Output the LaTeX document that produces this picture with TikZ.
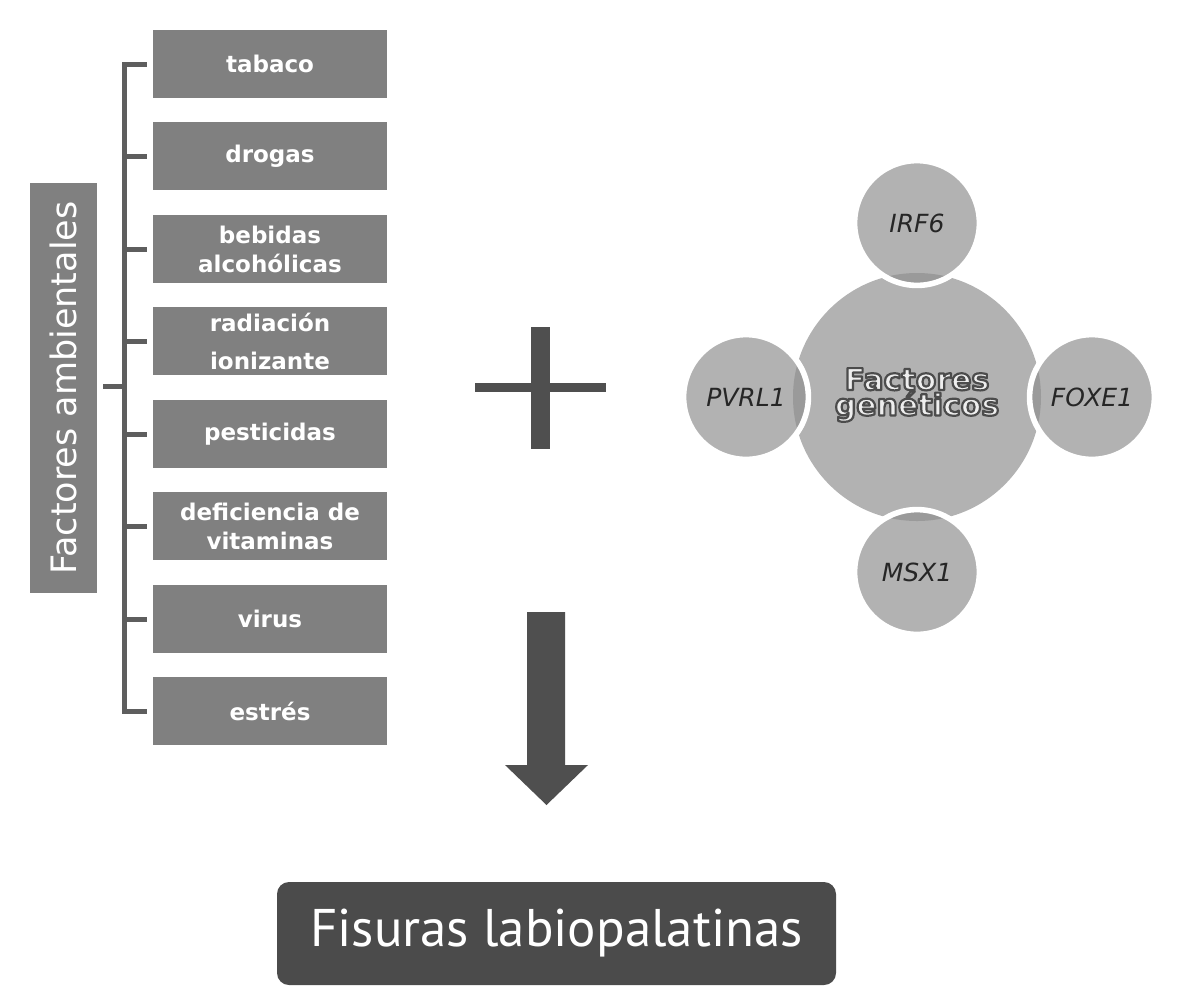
\documentclass[tikz,border=0pt]{standalone}
\usepackage{fontspec}
\setmainfont{DejaVu Sans}
\newfontfamily\fisfont{PT Sans}
\definecolor{boxgray}{HTML}{808080}
\definecolor{brkgray}{HTML}{5E5E5E}
\definecolor{darkgray2}{HTML}{4F4F4F}
\definecolor{circgray}{HTML}{B2B2B2}
\definecolor{lensgray}{HTML}{9A9A9A}
\definecolor{genetext}{HTML}{262626}
\definecolor{fglight}{HTML}{EEEEEE}
\definecolor{fisbox}{HTML}{4B4B4B}
\newcommand{\outlinedtext}[1]{\special{pdf:literal direct 0.3 G 1.1 w 1 j 2 Tr}#1\special{pdf:literal direct 0 Tr}}
\begin{document}
\begin{tikzpicture}[x=0.5pt,y=-0.5pt,
  factorbox/.style={rectangle, fill=boxgray, text=white,
    font=\bfseries\fontsize{11.5}{14}\selectfont,
    minimum width=117pt, minimum height=34pt, inner sep=0pt, align=center},
  brk/.style={draw=brkgray, line width=2.5pt},
  genenode/.style={circle, fill=circgray, minimum size=62pt, inner sep=0pt,
    font=\itshape\fontsize{12.5}{14}\selectfont, text=genetext},
  fgtext/.style={font=\bfseries\fontsize{15}{12.7}\selectfont, align=center, inner sep=0pt},
]
\path[use as bounding box, fill=white] (0,0) rectangle (1179,998);

% Factores ambientales
\node[rectangle, fill=boxgray, text=white, rotate=90,
  minimum width=205pt, minimum height=33.5pt, inner sep=0pt,
  font=\fontsize{17.5}{20}\selectfont] (fa) at (63.5,388) {Factores ambientales};

% factor boxes
\node[factorbox] (b1) at (270,64) {tabaco};
\node[factorbox] (b2) at (270,156) {drogas};
\node[factorbox, font=\bfseries\fontsize{11.5}{14.5}\selectfont] (b3) at (270,249) {bebidas\\alcohólicas};
\node[factorbox, font=\bfseries\fontsize{11.5}{19}\selectfont] (b4) at (270,341) {radiación\\ionizante};
\node[factorbox] (b5) at (270,434) {pesticidas};
\node[factorbox, font=\bfseries\fontsize{11.5}{14.5}\selectfont] (b6) at (270,526) {deficiencia de\\vitaminas};
\node[factorbox] (b7) at (270,619) {virus};
\node[factorbox] (b8) at (270,711) {estrés};

% bracket
\coordinate (stub) at (103,386);
\coordinate (spine) at (125,386);
\draw[brk] ([xshift=-3pt]b1.west) -- ++(-22,0) |- ([xshift=-3pt]b8.west);
\foreach \b in {b2,b3,b4,b5,b6,b7}
  \draw[brk] ([xshift=-3pt]\b.west) -- ++(-22,0);
\draw[brk] (stub) -- (spine);

% plus sign
\fill[darkgray2] (475,383) rectangle (606,392);
\fill[darkgray2] (531,327) rectangle (550,449);

% down arrow
\fill[darkgray2] (527,612) -- (565,612) -- (565,765) -- (588,765) -- (546.5,805)
  -- (505,765) -- (527,765) -- cycle;

% genetic factors
\node[circle, fill=circgray, minimum size=124pt, inner sep=0pt] (gc) at (917,397) {};
\node[genenode] (irf) at (917,223) {};
\node[genenode] (pvr) at (746,397) {};
\node[genenode] (fox) at (1092,397) {};
\node[genenode] (msx) at (917,572) {};
\begin{scope}
  \clip (gc.center) circle (62pt);
  \foreach \g in {irf,pvr,fox,msx}
    \fill[lensgray] (\g.center) circle (31pt);
\end{scope}
\foreach \g in {irf,pvr,fox,msx}
  \draw[white, line width=2.8pt] (\g.center) circle (31.2pt);
\node[genenode, fill=none] at (irf) {IRF6};
\node[genenode, fill=none] at (pvr) {PVRL1};
\node[genenode, fill=none] at (fox) {FOXE1};
\node[genenode, fill=none] at (msx) {MSX1};

\node[fgtext, text=fglight] (fg) at ([yshift=1pt]gc.center) {\outlinedtext{Factores\\genéticos}};

% result
\node[rectangle, rounded corners=6pt, fill=fisbox, text=white,
  minimum width=279.5pt, minimum height=51.5pt, inner sep=0pt,
  font=\fisfont\fontsize{26.5}{30}\selectfont] (fis) at (556.5,933.5) {Fisuras labiopalatinas};
\end{tikzpicture}
\end{document}
